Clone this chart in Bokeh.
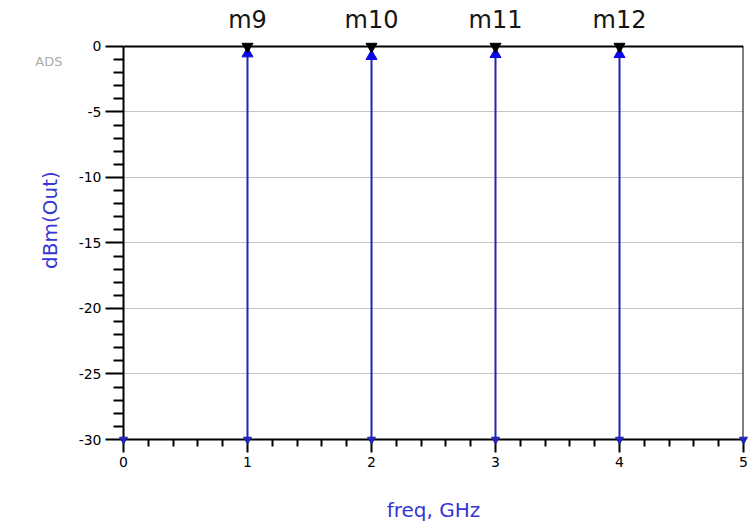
from bokeh.plotting import figure
from bokeh.models import (Range1d, FixedTicker, LinearAxis, PrintfTickFormatter,
                          CustomJSTickFormatter)
from bokeh.embed import file_html
from bokeh.resources import INLINE
from bokeh.core.properties import value
import numpy as np

# ---- data ----
freq_ghz = [0, 1, 2, 3, 4, 5]
out_dbm = [-60.0, -0.55, -0.75, -0.6, -0.6, -60.0]   # 0 and 5 GHz lie below the -30 dBm floor
marker_names = ["m9", "m10", "m11", "m12"]
marker_freq = [1, 2, 3, 4]
y_ticks = [-30, -25, -20, -15, -10, -5, 0]
x_ticks = [0, 1, 2, 3, 4, 5]

Y_MIN, Y_MAX = -30, 0
X_MIN, X_MAX = 0, 5

FONT = "DejaVu Sans"
BLUE_TXT = "#3636d2"
STEM = "#2323b4"
TRI = "#0a0ae6"

p = figure(width=751, height=527, output_backend="svg", toolbar_location=None,
           x_range=Range1d(X_MIN, X_MAX), y_range=Range1d(Y_MIN, 3.51),
           min_border_left=123, min_border_right=8, min_border_top=0,
           min_border_bottom=88)
p.outline_line_color = None
p.background_fill_color = "white"
p.border_fill_color = "white"

# axes
y_minor = [v for v in range(Y_MIN, Y_MAX + 1) if v % 5]
x_minor = [round(v * 0.2, 2) for v in range(0, 26) if v % 5]
p.yaxis.ticker = FixedTicker(ticks=y_ticks, minor_ticks=y_minor)
p.xaxis.ticker = FixedTicker(ticks=x_ticks, minor_ticks=x_minor)
p.yaxis.formatter = PrintfTickFormatter(format="%d")
p.xaxis.formatter = PrintfTickFormatter(format="%d")
p.yaxis.bounds = (Y_MIN, Y_MAX)
p.xaxis.bounds = (X_MIN, X_MAX)

for ax in (p.xaxis[0], p.yaxis[0]):
    ax.axis_line_width = 2
    ax.axis_line_color = "black"
    ax.major_tick_line_width = 2
    ax.minor_tick_line_width = 2
    ax.major_tick_line_color = "black"
    ax.minor_tick_line_color = "black"
    ax.major_tick_in = 0
    ax.minor_tick_in = 0
    ax.major_label_text_font = FONT
    ax.major_label_text_font_size = "14px"
    ax.major_label_text_color = "black"
    ax.major_label_standoff = 4
    ax.axis_label_text_font = FONT
    ax.axis_label_text_font_size = "20px"
    ax.axis_label_text_font_style = "normal"
    ax.axis_label_text_color = BLUE_TXT

p.yaxis.major_tick_out = 18
p.yaxis.minor_tick_out = 10
p.xaxis.major_tick_out = 13
p.xaxis.minor_tick_out = 7
p.yaxis.axis_label = "dBm(Out)"
p.xaxis.axis_label = "freq, GHz"
p.yaxis.axis_label_standoff = 14
p.xaxis.axis_label_standoff = 28

# "ADS" watermark: the single tick label of a line-less outer axis
ads = LinearAxis(ticker=FixedTicker(ticks=[-1.15], minor_ticks=[]),
                 formatter=CustomJSTickFormatter(code="return 'ADS';"),
                 axis_line_color=None, major_tick_line_color=None,
                 minor_tick_line_color=None, major_tick_out=0, minor_tick_out=0,
                 major_label_standoff=-28,
                 major_label_text_font=FONT, major_label_text_font_size="13px",
                 major_label_text_color="#acacac")
p.add_layout(ads, "left")

p.xgrid.visible = False
p.ygrid.ticker = FixedTicker(ticks=y_ticks)
p.ygrid.grid_line_color = "#c4c4c4"
p.ygrid.grid_line_width = 1

# top and right borders of the graph box
p.segment(x0=[X_MIN], y0=[Y_MAX], x1=[X_MAX], y1=[Y_MAX], line_color="black", line_width=2)
p.segment(x0=[X_MAX], y0=[Y_MIN], x1=[X_MAX], y1=[Y_MAX], line_color="black", line_width=2)

# spectral lines
f = np.array(freq_ghz, dtype=float)
v = np.array(out_dbm, dtype=float)
vis = v > Y_MIN
p.segment(x0=f[vis], y0=np.full(vis.sum(), Y_MIN), x1=f[vis], y1=v[vis],
          line_color=STEM, line_width=2)
p.scatter(x=f[vis], y=v[vis], marker="triangle", size=11,
          fill_color=TRI, line_color=TRI)
floor = p.scatter(x=f, y=np.full(len(f), Y_MIN), marker="inverted_triangle", size=8,
                  fill_color=STEM, line_color=STEM)
floor.level = "overlay"

# ADS markers
p.scatter(x=marker_freq, y=[Y_MAX] * len(marker_freq), marker="inverted_triangle",
          size=11, fill_color="black", line_color="black")
p.text(x=marker_freq, y=[Y_MAX] * len(marker_freq), text=marker_names,
       text_align="center", text_baseline="alphabetic", y_offset=-26,
       text_font=value(FONT), text_font_size="24px", text_color="#151515")

open("out.html", "w").write(file_html(p, INLINE))
